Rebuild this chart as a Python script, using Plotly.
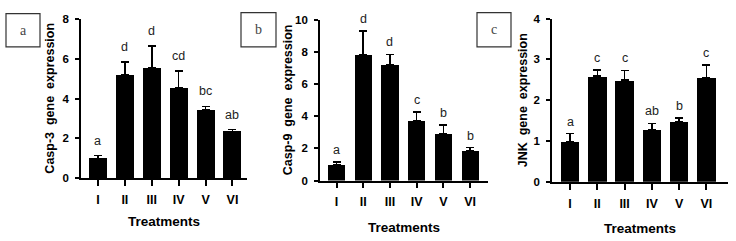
import plotly.graph_objects as go

W, H = 736, 241

categories = ["I", "II", "III", "IV", "V", "VI"]

casp3_vals = [0.99, 5.18, 5.54, 4.54, 3.43, 2.33]
casp3_err = [0.14, 0.68, 1.12, 0.84, 0.18, 0.11]
casp3_letters = ["a", "d", "d", "cd", "bc", "ab"]

casp9_vals = [1.00, 7.80, 7.18, 3.71, 2.92, 1.87]
casp9_err = [0.16, 1.53, 0.67, 0.57, 0.55, 0.18]
casp9_letters = ["a", "d", "d", "c", "b", "b"]

jnk_vals = [0.99, 2.59, 2.49, 1.27, 1.47, 2.56]
jnk_err = [0.19, 0.15, 0.24, 0.16, 0.10, 0.31]
jnk_letters = ["a", "c", "c", "ab", "b", "c"]

y_titles = ["Casp-3  gene  expression", "Casp-9  gene  expression", "JNK  gene  expression"]
panel_tags = ["a", "b", "c"]
x_title = "Treatments"

FONT = "Liberation Sans, Arial, Helvetica, sans-serif"

# pixel geometry for each panel
panels = [
    dict(vals=casp3_vals, err=casp3_err, letters=casp3_letters, ymax=8, dtick=2,
         px=(81, 247), py=(14, 181), xr=(-0.63, 5.54), bw=0.67, lshift=15,
         ytitle_x=50, xtitle_y=227, box=(6, 8, 40, 43)),
    dict(vals=casp9_vals, err=casp9_err, letters=casp9_letters, ymax=10, dtick=2,
         px=(320, 488), py=(14.7, 183.7), xr=(-0.62, 5.67), bw=0.64, lshift=12,
         ytitle_x=288, xtitle_y=233, box=(241, 7, 276, 43)),
    dict(vals=jnk_vals, err=jnk_err, letters=jnk_letters, ymax=4, dtick=1,
         px=(552, 728), py=(13.3, 185), xr=(-0.66, 5.79), bw=0.68, lshift=12,
         ytitle_x=523, xtitle_y=234, box=(477, 7, 511, 43)),
]

fig = go.Figure()
annotations = []
shapes = []

for i, p in enumerate(panels):
    n = "" if i == 0 else str(i + 1)
    xa = "x" + n
    ya = "y" + n
    xs = list(range(len(categories)))
    fig.add_trace(go.Bar(
        x=xs, y=p["vals"], width=p["bw"], marker=dict(color="black", line=dict(width=0)),
        error_y=dict(type="data", array=p["err"], arrayminus=[0] * len(p["err"]),
                     symmetric=False, color="black", thickness=1.6, width=4),
        xaxis=xa, yaxis=ya, showlegend=False,
    ))
    xdom = [p["px"][0] / W, p["px"][1] / W]
    ydom = [1 - p["py"][1] / H, 1 - p["py"][0] / H]
    axis_common = dict(showline=True, linecolor="black", linewidth=1.8, ticks="outside",
                       tickcolor="black", tickwidth=1.8, showgrid=False, zeroline=False)
    fig.layout["xaxis" + n] = dict(
        domain=xdom, anchor=ya, range=list(p["xr"]), tickmode="array", tickvals=xs,
        ticktext=categories, ticklen=6, ticklabelstandoff=3,
        tickfont=dict(family=FONT, size=12.5, color="black", weight="bold"),
        **axis_common)
    fig.layout["yaxis" + n] = dict(
        domain=ydom, anchor=xa, range=[0, p["ymax"]], dtick=p["dtick"], ticklen=4,
        ticklabelstandoff=4,
        tickfont=dict(family=FONT, size=11.5, color="black", weight="bold"), **axis_common)

    # significance letters
    for j, (v, e, t) in enumerate(zip(p["vals"], p["err"], p["letters"])):
        annotations.append(dict(x=j, y=v + e, xref=xa, yref=ya, text=t, showarrow=False,
                                yanchor="middle", yshift=p["lshift"],
                                font=dict(family=FONT, size=12.5, color="#222")))
    # axis titles
    annotations.append(dict(x=p["ytitle_x"] / W, y=1 - ((p["py"][0] + p["py"][1]) / 2) / H,
                            xref="paper", yref="paper", text=y_titles[i], textangle=-90,
                            showarrow=False, xanchor="center", yanchor="middle",
                            font=dict(family=FONT, size=12.5, color="black", weight="bold")))
    annotations.append(dict(x=((p["px"][0] + p["px"][1]) / 2) / W, y=1 - p["xtitle_y"] / H,
                            xref="paper", yref="paper", text=x_title, showarrow=False,
                            xanchor="center", yanchor="middle",
                            font=dict(family=FONT, size=13.5, color="black", weight="bold")))
    # panel tag box
    bx0, by0, bx1, by1 = p["box"]
    shapes.append(dict(type="rect", xref="paper", yref="paper", x0=bx0 / W, x1=bx1 / W,
                       y0=1 - by1 / H, y1=1 - by0 / H, line=dict(color="#333", width=1.2)))
    annotations.append(dict(x=(bx0 + bx1) / 2 / W, y=1 - (by0 + by1) / 2 / H, xref="paper",
                            yref="paper", text=panel_tags[i], showarrow=False,
                            xanchor="center", yanchor="middle",
                            font=dict(family="Liberation Serif, Times New Roman, serif", size=14, color="#444")))

fig.update_layout(width=W, height=H, margin=dict(l=0, r=0, t=0, b=0),
                  paper_bgcolor="white", plot_bgcolor="white", bargap=0,
                  annotations=annotations, shapes=shapes)

fig.write_html("out.html")
